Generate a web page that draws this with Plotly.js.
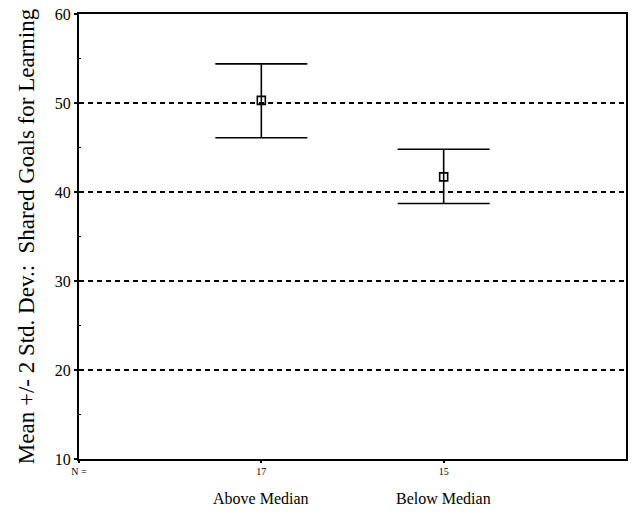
<!DOCTYPE html>
<html>
<head>
<meta charset="utf-8">
<script src="https://cdn.plot.ly/plotly-3.0.1.min.js"></script>
<style>html,body{margin:0;padding:0;background:#fff;}#chart{width:634px;height:512px;}</style>
</head>
<body>
<div id="chart"></div>
<script>
const groups = ["Above Median", "Below Median"];
const groupPos = [1, 2];
const nCounts = ["17", "15"];
const means = [50.3, 41.7];
const upper = [54.4, 44.8];
const lower = [46.1, 38.7];
const yTicks = [10, 20, 30, 40, 50, 60];

const errPlus = means.map((m, i) => upper[i] - m);
const errMinus = means.map((m, i) => m - lower[i]);

const trace = {
  x: groupPos, y: means, type: 'scatter', mode: 'markers',
  marker: {symbol: 'square-open', size: 8, color: '#000', line: {width: 1.6, color: '#000'}},
  error_y: {type: 'data', symmetric: false, array: errPlus, arrayminus: errMinus,
            color: '#000', thickness: 1.6, width: 46},
  showlegend: false, hoverinfo: 'none'
};

const serif = 'Liberation Serif, Times New Roman, serif';
const layout = {
  width: 634, height: 512,
  margin: {l: 79, r: 8, t: 14, b: 53},
  paper_bgcolor: '#fff', plot_bgcolor: '#fff',
  font: {family: serif, color: '#000'},
  xaxis: {
    range: [0, 3], tickmode: 'array', tickvals: [0].concat(groupPos),
    ticktext: ['N ='].concat(nCounts), tickfont: {size: 10, family: serif},
    showline: true, linecolor: '#000', linewidth: 2, mirror: true,
    ticks: 'outside', ticklen: 2, tickwidth: 2, tickcolor: '#000',
    showgrid: false, zeroline: false, fixedrange: true
  },
  yaxis: {
    range: [10, 60], tickmode: 'array', tickvals: yTicks,
    tickfont: {size: 16, family: serif},
    showline: true, linecolor: '#000', linewidth: 2, mirror: true,
    ticks: 'outside', ticklen: 3, tickwidth: 2, tickcolor: '#000',
    showgrid: true, gridcolor: '#000', gridwidth: 1.4, griddash: '5px,4px',
    zeroline: false,
    minor: {tickvals: [15, 25, 35, 45, 55], ticks: 'inside', ticklen: 2, tickwidth: 1, tickcolor: '#000', showgrid: false},
    title: {text: 'Mean +/- 2 Std. Dev.:  Shared Goals for Learning', font: {size: 23, family: serif}, standoff: 14},
    fixedrange: true
  },
  annotations: groups.map((g, i) => ({
    x: groupPos[i], xref: 'x', y: -0.065, yref: 'paper', yanchor: 'top',
    text: g, showarrow: false, font: {size: 16, family: serif, color: '#000'}
  }))
};

Plotly.newPlot('chart', [trace], layout, {staticPlot: true, displayModeBar: false});
</script>
</body>
</html>
